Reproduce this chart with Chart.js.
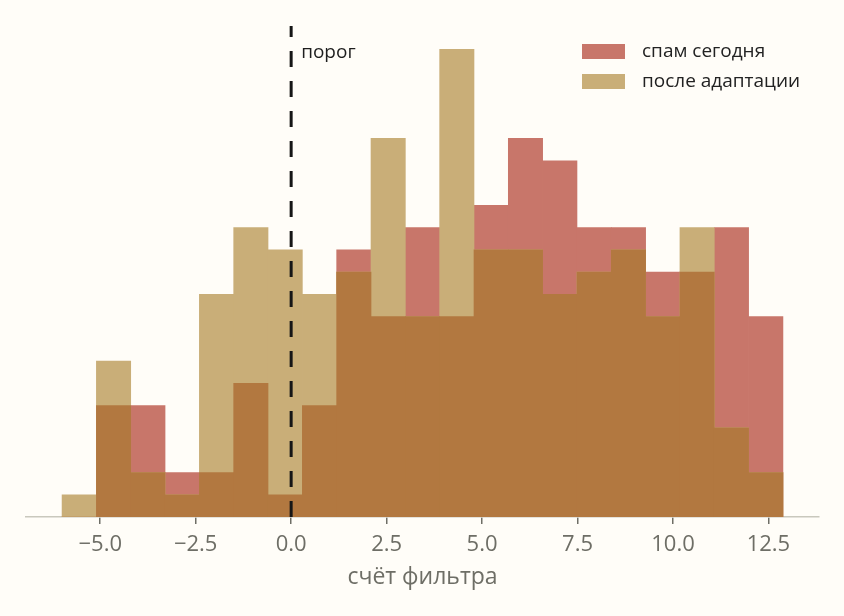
<!DOCTYPE html>
<html>
<head>
<meta charset="utf-8">
<script src="https://cdn.jsdelivr.net/npm/chart.js@4/dist/chart.umd.min.js"></script>
<style>
  html, body { margin: 0; padding: 0; background: #fffdf8; }
  #wrap { width: 844px; height: 616px; }
</style>
</head>
<body>
<div id="wrap"><canvas id="hist" width="844" height="616"></canvas></div>
<script>
// центры корзин гистограммы (ширина корзины ~0.899)
const binCenters = [-5.550, -4.651, -3.752, -2.853, -1.954, -1.055, -0.156, 0.743, 1.642, 2.541,
  3.440, 4.339, 5.238, 6.137, 7.036, 7.935, 8.834, 9.733, 10.632, 11.531, 12.430];
const spamToday = [0, 5, 5, 2, 2, 6, 1, 5, 12, 9, 13, 9, 14, 17, 16, 13, 13, 11, 11, 13, 9];
const afterAdapt = [1, 7, 2, 1, 10, 13, 12, 10, 11, 17, 9, 21, 12, 12, 10, 11, 12, 9, 13, 4, 2];
const tickValues = [-5, -2.5, 0, 2.5, 5, 7.5, 10, 12.5];
const threshold = 0;

const seriesNames = ['спам сегодня', 'после адаптации'];
// цвета как они видны на светлом фоне (полупрозрачность + наложение)
const redColor = '#c8766a';
const tanColor = '#c9ae78';
const overlapColor = '#b27840';
const FONT = '"Open Sans", "Noto Sans", sans-serif';

const toPoints = vals => vals.map((v, i) => ({ x: binCenters[i], y: v }));
// общая часть двух гистограмм — там, где столбцы перекрываются
const overlap = spamToday.map((v, i) => Math.min(v, afterAdapt[i]));

const extras = {
  id: 'extras',
  beforeDraw(chart) {
    const c = chart.ctx;
    c.save();
    c.fillStyle = '#fffdf8';
    c.fillRect(0, 0, chart.width, chart.height);
    c.restore();
  },
  afterDatasetsDraw(chart) {
    const c = chart.ctx;
    const area = chart.chartArea;
    const x = chart.scales.x.getPixelForValue(threshold);
    c.save();
    c.strokeStyle = '#161616';
    c.lineWidth = 3;
    c.setLineDash([16, 14]);
    c.beginPath();
    c.moveTo(x, area.bottom);
    c.lineTo(x, area.top);
    c.stroke();
    c.setLineDash([]);
    c.fillStyle = '#1e1e1e';
    c.font = '19px ' + FONT;
    c.textBaseline = 'middle';
    c.fillText('порог', x + 10, 53);

    // легенда
    const lx = 582, ly = [44, 74], lc = [redColor, tanColor];
    seriesNames.forEach((name, i) => {
      c.fillStyle = lc[i];
      c.fillRect(lx, ly[i], 43, 15);
      c.fillStyle = '#222222';
      c.fillText(name, 642, ly[i] + 8);
    });
    c.restore();
  }
};

new Chart(document.getElementById('hist'), {
  type: 'bar',
  data: {
    datasets: [
      { label: seriesNames[0], data: toPoints(spamToday), backgroundColor: redColor, order: 3 },
      { label: seriesNames[1], data: toPoints(afterAdapt), backgroundColor: tanColor, order: 2 },
      { label: 'overlap', data: toPoints(overlap), backgroundColor: overlapColor, order: 1 }
    ]
  },
  options: {
    responsive: false,
    animation: false,
    layout: { padding: { left: 26, right: 25, top: 26, bottom: 0 } },
    datasets: {
      bar: { barPercentage: 1, categoryPercentage: 1, grouped: false, borderWidth: 0 }
    },
    scales: {
      x: {
        type: 'linear',
        offset: false,
        min: -6.944,
        max: 13.824,
        afterBuildTicks: s => { s.ticks = tickValues.map(v => ({ value: v })); },
        afterFit: s => { s.height = 99; },
        border: { color: '#c9c8bd', width: 1.5 },
        grid: { offset: false, drawOnChartArea: false, drawTicks: true, tickLength: 7, color: '#6e6e66', lineWidth: 1.5 },
        ticks: {
          color: '#6e6e66',
          padding: 8,
          maxRotation: 0,
          font: { family: FONT, size: 22 },
          callback: v => v.toFixed(1).replace('-', '\u2212')
        },
        title: {
          display: true,
          text: 'счёт фильтра',
          color: '#6e6e66',
          font: { family: FONT, size: 23 },
          padding: { top: 25, bottom: 25 }
        }
      },
      y: { display: false, min: 0, max: 22.05 }
    },
    plugins: {
      legend: { display: false },
      tooltip: { enabled: false }
    }
  },
  plugins: [extras]
});
</script>
</body>
</html>
